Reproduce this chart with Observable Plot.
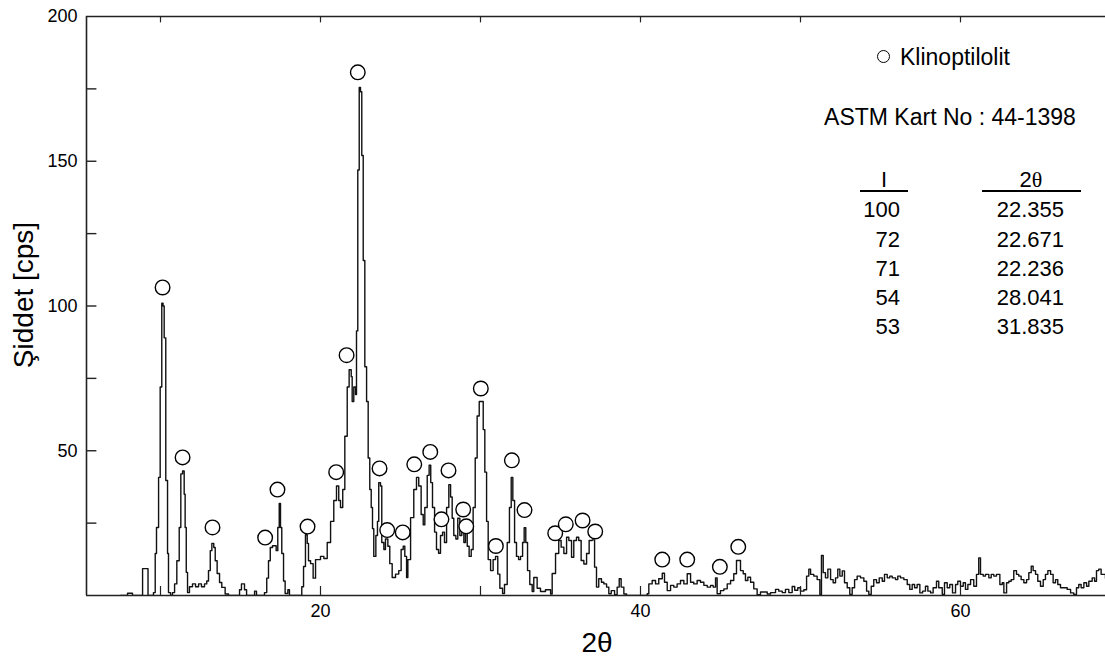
<!DOCTYPE html>
<html><head><meta charset="utf-8">
<script src="https://cdn.jsdelivr.net/npm/d3@7"></script>
<script src="https://cdn.jsdelivr.net/npm/@observablehq/plot@0.6"></script>
<style>
body{margin:0;background:#fff;font-family:"Liberation Sans",Arial,sans-serif;}
#wrap{position:relative;width:1105px;height:661px;overflow:hidden;background:#fff}
#wrap svg{position:absolute;left:0;top:0}
.t{position:absolute;white-space:nowrap;color:#000;line-height:1}
.serif{font-family:"Liberation Serif","Times New Roman",serif}
</style></head><body><div id="wrap"></div>
<script>
// 2θ positions of the measured trace (degrees)
const twoTheta = [7.50,7.94,8.25,8.88,9.22,9.38,9.56,9.67,9.75,9.88,9.98,10.08,10.16,10.23,10.33,10.44,10.50,10.63,10.75,10.88,11.02,11.17,11.27,11.38,11.48,11.54,11.61,11.69,11.81,12.00,12.19,12.38,12.56,12.75,12.89,13.00,13.11,13.21,13.33,13.42,13.54,13.69,13.83,14.04,14.25,14.94,15.06,15.25,15.38,15.88,16.00,16.50,16.64,16.75,16.86,17.00,17.23,17.33,17.42,17.50,17.58,17.69,17.79,17.96,18.06,18.83,18.94,19.06,19.17,19.25,19.38,19.54,19.69,20.00,20.21,20.42,20.63,20.83,21.00,21.14,21.25,21.39,21.52,21.67,21.79,21.92,21.98,22.08,22.19,22.25,22.33,22.42,22.50,22.58,22.67,22.77,22.88,22.98,23.08,23.17,23.25,23.33,23.46,23.56,23.64,23.75,23.83,23.96,24.06,24.21,24.33,24.48,24.69,24.89,25.04,25.17,25.27,25.38,25.46,25.63,25.83,26.00,26.14,26.29,26.42,26.52,26.67,26.79,26.89,27.00,27.13,27.25,27.38,27.50,27.63,27.75,27.88,28.02,28.13,28.23,28.33,28.46,28.58,28.71,28.83,28.96,29.06,29.17,29.29,29.42,29.54,29.67,29.79,29.92,30.04,30.17,30.27,30.38,30.48,30.63,30.79,30.94,31.08,31.21,31.38,31.50,31.67,31.81,31.92,32.02,32.13,32.25,32.38,32.50,32.63,32.73,32.83,32.94,33.08,33.23,33.33,33.54,33.75,34.06,34.38,34.48,34.69,34.89,35.04,35.21,35.38,35.52,35.69,35.83,36.00,36.14,36.29,36.46,36.63,36.79,36.98,37.13,37.25,37.39,37.56,37.71,37.88,38.02,38.17,38.38,38.54,38.67,38.79,38.96,39.13,40.42,40.52,40.73,40.94,41.14,41.36,41.50,41.67,41.88,42.08,42.29,42.50,42.71,42.92,43.13,43.33,43.54,43.75,43.96,44.17,44.38,44.54,44.69,44.79,45.00,45.21,45.42,45.63,45.83,46.00,46.25,46.42,46.56,46.71,46.88,47.08,47.29,47.50,47.92,48.13,48.44,48.64,48.86,49.06,49.27,49.48,49.64,49.83,50.00,50.21,50.38,50.52,50.63,50.83,51.04,51.21,51.31,51.42,51.56,51.71,51.88,52.04,52.19,52.33,52.46,52.61,52.75,52.92,53.08,53.23,53.38,53.54,53.75,53.96,54.13,54.27,54.42,54.58,54.75,54.92,55.11,55.25,55.42,55.58,55.73,55.94,56.08,56.25,56.46,56.67,56.83,56.98,57.13,57.29,57.46,57.63,57.81,57.96,58.13,58.29,58.50,58.64,58.86,59.00,59.17,59.33,59.50,59.69,59.83,60.00,60.17,60.31,60.46,60.63,60.83,61.00,61.14,61.25,61.42,61.56,61.77,61.92,62.08,62.25,62.46,62.61,62.71,62.88,63.02,63.17,63.33,63.50,63.64,63.79,63.96,64.13,64.27,64.42,64.54,64.69,64.83,65.00,65.17,65.31,65.46,65.63,65.79,65.94,66.08,66.25,66.46,66.67,66.88,67.08,67.25,67.39,67.54,67.71,67.88,68.02,68.23,68.38,68.50,68.64,68.79,68.96,69.06,69.3];
// intensity (cps) at each 2θ position
const intensity = [0,0.8,0,9.3,0,0,1,14.5,23.5,40.8,72,101,100,89,39.7,14.5,1,0,1,4,12,23.5,42,43,35,23.5,8,1,3,4,3,4,3,4,5,8.6,15.5,18,16.6,12,7.6,4.5,2.8,0.5,0,2,4,2,0,1.5,0,1,6,12,16.6,17.2,15.5,23.5,31.8,23.5,14.5,5,0.7,2,0,3,10,21,18,12,11,6,12.4,13.5,12.8,18.3,25.6,32.8,37.8,32.8,30.4,36.6,55,72,78,75.6,67,72,69.4,91.4,147,175.5,174,152,115.7,79,67,47.5,36.6,30.4,23.1,13.5,20.7,25.6,39,37.8,18.3,15.9,19.5,17,11,6.2,7.4,8.6,15.9,17,13.5,6.2,12.4,26.9,36.6,40.8,37.8,28,24.4,30.4,41.5,45,39,30.4,21.9,15.9,14.6,20.7,21.9,18.3,30.4,38.3,34,26.7,20.7,19.5,26.7,20.7,24.9,18.3,23.1,17,13.5,15.9,30.4,47.5,62,67,67,57.3,42.6,25.6,12.4,8.6,12.4,13.5,7.4,2.5,0.7,3.8,18.3,30.4,40.8,32.8,18.3,13.5,12.4,13.5,18.3,23.4,18.3,8.6,3.8,1.4,6.2,2.5,1.4,2,0.5,7.6,14.5,19,16.7,14.5,20.1,19,13.2,19,20.1,19,12.1,10.9,14.5,19,19.2,9.8,2.9,5.8,4.6,4,2.9,0.6,1.7,0.3,2.9,5.8,2.9,0.5,0,0.6,4,5.2,4,5.8,7.7,4.6,1.7,3.5,2.9,4,5.2,4,7.5,4.6,4,5.2,4.6,3.5,2.9,3.5,2.9,6.1,0.6,1.7,2.3,4,5.2,7.5,12.1,8.6,7.5,5.2,6.3,4.6,2.3,0.3,1.2,0.5,1,2.1,1.5,1,2.1,1,3.1,1.8,2.7,1.5,2,6.7,9.1,7.3,6.7,5.5,0.4,13.8,7.9,6.1,9.1,5.5,4.4,6.1,9.1,6.7,8.5,4.4,2.7,0.4,2.7,5.5,6.7,6.1,4.9,1.5,0.4,3.2,5.5,4.4,6.1,4.9,7.3,6.1,6.7,6.1,5.5,6.7,6.1,5.5,3.8,2.1,3.8,2.7,3.8,0.9,1.5,3.2,1.5,0.9,2.7,4.9,2.7,0.4,4.4,2.7,3.8,0.9,3.8,4.9,3.2,4.4,2.1,3.8,5.5,3.2,7.3,13,7.3,6.7,7.3,6.1,7.3,6.7,7.3,3.8,4.4,0.9,4.4,4.9,5.5,8.6,7.3,6.7,5.5,4.4,5.5,7.9,10.1,8.6,7.3,4.9,3.2,5.5,7.3,8.6,7.3,4.4,5.5,3.8,2.7,2.7,2.1,0.9,0.4,2.7,3.8,2.7,4.4,3.2,4.9,6.1,4.9,8.6,9.1,7.3,7.3,6,6];
// Klinoptilolit peak markers (2θ, marker height in cps)
const markerTheta = [10.13,11.38,13.25,16.54,17.31,19.19,20.98,21.63,22.33,23.69,24.17,25.14,25.86,26.86,27.56,28.00,28.92,29.11,30.02,30.96,31.96,32.75,34.67,35.33,36.38,37.17,41.36,42.92,44.96,46.11];
const markerCps = [106.4,47.7,23.5,20.0,36.6,23.8,42.6,83.0,180.7,43.9,22.6,21.8,45.3,49.6,26.3,43.2,29.7,23.9,71.5,17.1,46.7,29.5,21.5,24.6,25.9,22.1,12.4,12.4,9.9,16.8];
// axis ticks
const xTickLabels = [20, 40, 60];
const xAllTicks = [10, 20, 30, 40, 50, 60];
const yTickLabels = [50, 100, 150, 200];
const yInnerTicks = [25, 50, 75, 100, 125, 150, 175];
// reference table
const tableI = ["100", "72", "71", "54", "53"];
const table2Theta = ["22.355", "22.671", "22.236", "28.041", "31.835"];

const trace = twoTheta.map((t, i) => ({t, c: intensity[i]}));
const markers = markerTheta.map((t, i) => ({t, c: markerCps[i]}));

const xDomain = [5.375, 69.0625];
const font = '"Liberation Sans", Arial, sans-serif';

const chart = Plot.plot({
  width: 1105, height: 661,
  marginTop: 16, marginBottom: 66, marginLeft: 86, marginRight: 0,
  style: {fontFamily: font, color: "#000", background: "transparent", overflow: "visible"},
  x: {domain: xDomain, label: null},
  y: {domain: [0, 200], label: null},
  marks: [
    Plot.line(trace, {x: "t", y: "c", curve: "step-after", stroke: "#111", strokeWidth: 1.4, clip: true}),
    Plot.ruleY([0, 200], {stroke: "#222", strokeWidth: 1.6}),
    Plot.ruleX([xDomain[0]], {stroke: "#222", strokeWidth: 1.6}),
    Plot.ruleY(yInnerTicks, {x1: xDomain[0], x2: xDomain[0] + 0.65, stroke: "#222", strokeWidth: 1.4}),
    Plot.ruleX(xAllTicks, {y1: 0, y2: 3.1, stroke: "#222", strokeWidth: 1.2}),
    Plot.ruleX(xAllTicks, {y1: 200, y2: 197.8, stroke: "#222", strokeWidth: 1.2}),
    Plot.dot(markers, {x: "t", y: "c", r: 7.3, stroke: "#000", strokeWidth: 1.4, fill: "white"}),
    Plot.axisY({ticks: yTickLabels, tickSize: 0, tickPadding: 9, fontSize: 18, label: null}),
    Plot.axisX({ticks: xTickLabels, tickSize: 0, tickPadding: 9, fontSize: 18, label: null})
  ]
});
const wrap = document.getElementById("wrap");
wrap.appendChild(chart);

function addText(html, style) {
  const d = document.createElement("div");
  d.className = "t";
  d.innerHTML = html;
  Object.assign(d.style, style);
  wrap.appendChild(d);
  return d;
}
// axis titles
addText("Şiddet [cps]", {left: "24px", top: "295px", fontSize: "28px", transform: "translate(-50%,-50%) rotate(-90deg)"});
addText("2θ", {left: "597px", top: "643px", fontSize: "28px", transform: "translate(-50%,-50%)"});
// legend
const circ = document.createElement("div");
Object.assign(circ.style, {position: "absolute", left: "877px", top: "50px", width: "13px", height: "13px", border: "1.3px solid #000", borderRadius: "50%", boxSizing: "border-box"});
wrap.appendChild(circ);
addText("Klinoptilolit", {left: "900px", top: "57px", fontSize: "23px", transform: "translateY(-50%)"});
addText("ASTM Kart No : 44-1398", {left: "950px", top: "117px", fontSize: "23px", transform: "translate(-50%,-50%)"});
// table header
addText("I", {left: "884px", top: "180px", fontSize: "22px", transform: "translate(-50%,-50%)"});
addText('2<span class="serif">θ</span>', {left: "1031px", top: "180px", fontSize: "22px", transform: "translate(-50%,-50%)"});
const ul1 = document.createElement("div");
Object.assign(ul1.style, {position: "absolute", left: "860px", top: "190px", width: "48px", height: "1.6px", background: "#000"});
wrap.appendChild(ul1);
const ul2 = document.createElement("div");
Object.assign(ul2.style, {position: "absolute", left: "982px", top: "190px", width: "99px", height: "1.6px", background: "#000"});
wrap.appendChild(ul2);
const rowY = [210, 240, 269, 298, 327];
tableI.forEach((v, i) => {
  addText(v, {left: "900px", top: rowY[i] + "px", fontSize: "22px", transform: "translate(-100%,-50%)"});
  addText(table2Theta[i], {left: "1064px", top: rowY[i] + "px", fontSize: "22px", transform: "translate(-100%,-50%)"});
});
</script>
</body></html>
